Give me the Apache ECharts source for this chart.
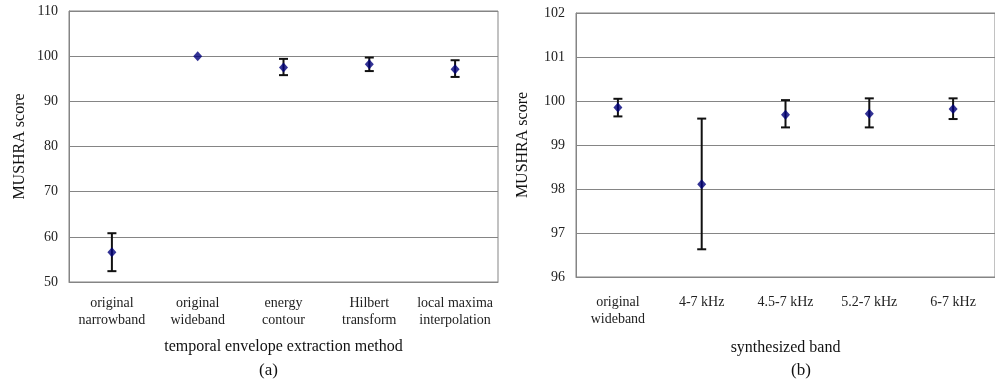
<!DOCTYPE html>
<html><head><meta charset="utf-8">
<script src="https://cdn.jsdelivr.net/npm/echarts@6/dist/echarts.min.js"></script>
<style>html,body{margin:0;padding:0;background:#fff}#c{width:995px;height:383px}</style>
</head><body><div id="c"></div>
<script>
const catsA = ['original\nnarrowband','original\nwideband','energy\ncontour','Hilbert\ntransform','local maxima\ninterpolation'];
const meanA = [56.6, 100.0, 97.5, 98.2, 97.1];
const lowA  = [52.4, 100.0, 95.8, 96.7, 95.4];
const highA = [60.8, 100.0, 99.4, 99.7, 99.1];

const catsB = ['original\nwideband','4-7 kHz','4.5-7 kHz','5.2-7 kHz','6-7 kHz'];
const meanB = [99.85, 98.11, 99.69, 99.71, 99.82];
const lowB  = [99.65, 96.63, 99.40, 99.40, 99.59];
const highB = [100.05, 99.60, 100.02, 100.06, 100.06];

const ticksA = {min: 50, max: 110, interval: 10};
const ticksB = {min: 96, max: 102, interval: 1};

const FONT = '"Liberation Serif", "Times New Roman", serif';
const GRAY = '#858585';

function errData(low, high){ return low.map((l,i)=>[i, l, high[i]]); }
function renderErr(params, api){
  const lo = api.value(1), hi = api.value(2);
  if (lo === hi) return;
  const p1 = api.coord([api.value(0), lo]);
  const p2 = api.coord([api.value(0), hi]);
  const w = 4.5;
  const st = {stroke:'#111', lineWidth:2};
  return {type:'group', children:[
    {type:'line', shape:{x1:p1[0],y1:p1[1],x2:p2[0],y2:p2[1]}, style:st},
    {type:'line', shape:{x1:p1[0]-w,y1:p1[1],x2:p1[0]+w,y2:p1[1]}, style:st},
    {type:'line', shape:{x1:p2[0]-w,y1:p2[1],x2:p2[0]+w,y2:p2[1]}, style:st}
  ]};
}
function xAx(idx, cats, name, margin, gap){
  return {type:'category', gridIndex:idx, data:cats,
    axisLine:{lineStyle:{color:GRAY,width:1}},
    axisTick:{inside:true,length:5,lineStyle:{color:GRAY}},
    axisLabel:{color:'#222', fontFamily:FONT, fontSize:14, lineHeight:17, margin:margin, interval:0},
    name:name, nameLocation:'middle', nameGap:gap,
    nameTextStyle:{color:'#111', fontFamily:FONT, fontSize:16}};
}
function yAx(idx, t, margin, gap){
  return {type:'value', gridIndex:idx, min:t.min, max:t.max, interval:t.interval,
    axisLine:{show:true, lineStyle:{color:GRAY}}, axisTick:{show:false},
    splitLine:{show:true, lineStyle:{color:GRAY, width:1}},
    axisLabel:{color:'#222', fontFamily:FONT, fontSize:14, margin:margin},
    name:'MUSHRA score', nameLocation:'middle', nameGap:gap, nameRotate:90,
    nameTextStyle:{color:'#111', fontFamily:FONT, fontSize:16}};
}
const chart = echarts.init(document.getElementById('c'), null, {renderer:'canvas'});
chart.setOption({
  animation:false,
  backgroundColor:'#fff',
  title:[
    {text:'(a)', left:254, top:357, textStyle:{fontFamily:FONT, fontSize:17, fontWeight:'normal', color:'#111'}},
    {text:'(b)', left:786, top:357, textStyle:{fontFamily:FONT, fontSize:17, fontWeight:'normal', color:'#111'}}
  ],
  grid:[
    {left:69, top:11, width:429, height:271, show:true, borderColor:GRAY, borderWidth:1},
    {left:576, top:13, width:431, height:264, show:true, borderColor:GRAY, borderWidth:1}
  ],
  xAxis:[xAx(0, catsA, 'temporal envelope extraction method', 13, 57), xAx(1, catsB, 'synthesized band', 17, 63)],
  yAxis:[yAx(0, ticksA, 11, 41), yAx(1, ticksB, 11, 45)],
  series:[
    {type:'custom', xAxisIndex:0, yAxisIndex:0, data:errData(lowA, highA), renderItem:renderErr, z:2},
    {type:'scatter', xAxisIndex:0, yAxisIndex:0, data:meanA, symbol:'diamond', symbolSize:[9,10], itemStyle:{color:'#00007a'}, z:3},
    {type:'custom', xAxisIndex:1, yAxisIndex:1, data:errData(lowB, highB), renderItem:renderErr, z:2},
    {type:'scatter', xAxisIndex:1, yAxisIndex:1, data:meanB, symbol:'diamond', symbolSize:[9,10], itemStyle:{color:'#00007a'}, z:3}
  ]
});
</script></body></html>
